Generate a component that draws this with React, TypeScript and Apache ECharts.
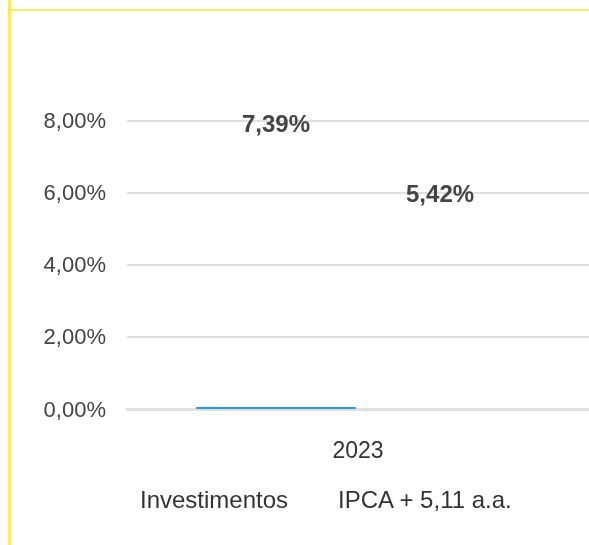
import React, { useEffect, useRef } from "react";
import * as echarts from "echarts";

const categories = ["2023"];
const seriesNames = ["Investimentos", "IPCA + 5,11 a.a."];
const investimentos = [7.39];
const ipca = [5.42];
const yTicks = { min: 0, max: 8, interval: 2 };

const FONT = "'Liberation Sans', Arial, Helvetica, sans-serif";
const fmtPct = (v: number) => v.toFixed(2).replace(".", ",") + "%";

export default function App() {
  const ref = useRef<HTMLDivElement>(null);
  useEffect(() => {
    if (!ref.current) return;
    const chart = echarts.init(ref.current, null, { renderer: "svg" });
    const blueStrip = {
      type: "linear",
      x: 0,
      y: 0,
      x2: 0,
      y2: 1,
      colorStops: [
        { offset: 0, color: "rgba(33,150,243,0)" },
        { offset: 0.992, color: "rgba(33,150,243,0)" },
        { offset: 0.992, color: "#2196f3" },
        { offset: 1, color: "#2196f3" },
      ],
    };
    chart.setOption({
      animation: false,
      textStyle: { fontFamily: FONT },
      grid: { left: 119, right: 0, top: 112.5, bottom: 136, containLabel: false },
      legend: {
        data: seriesNames,
        left: 97,
        top: 474,
        itemWidth: 25,
        itemHeight: 14,
        itemGap: 20,
        itemStyle: { opacity: 0 },
        textStyle: { fontSize: 24, color: "#333", fontFamily: FONT },
      },
      xAxis: {
        type: "category",
        data: categories,
        axisLine: { lineStyle: { color: "#e0e0e0", width: 3 } },
        axisTick: { alignWithLabel: true, length: 10, lineStyle: { color: "#e0e0e0", width: 2 } },
        axisLabel: { fontSize: 23, color: "#333", margin: 29, fontFamily: FONT },
      },
      yAxis: {
        type: "value",
        min: yTicks.min,
        max: yTicks.max,
        interval: yTicks.interval,
        axisLine: { show: false },
        axisTick: { show: false },
        splitLine: { lineStyle: { color: "#e0e0e0", width: 2 } },
        axisLabel: {
          fontSize: 22,
          color: "#444",
          margin: 21,
          fontFamily: FONT,
          formatter: (v: number) => fmtPct(v),
        },
      },
      series: [
        {
          name: seriesNames[0],
          type: "bar",
          data: investimentos,
          barCategoryGap: "30%",
          barGap: "3%",
          itemStyle: { color: blueStrip },
          label: {
            show: true,
            position: "top",
            distance: 7,
            fontSize: 24,
            fontWeight: "bold",
            color: "#444",
            fontFamily: FONT,
            formatter: (p: any) => fmtPct(p.value),
          },
        },
        {
          name: seriesNames[1],
          type: "bar",
          data: ipca,
          barCategoryGap: "30%",
          barGap: "3%",
          itemStyle: { color: "rgba(255,255,255,0)" },
          label: {
            show: true,
            position: "top",
            distance: 8,
            fontSize: 24,
            fontWeight: "bold",
            color: "#444",
            fontFamily: FONT,
            formatter: (p: any) => fmtPct(p.value),
          },
        },
      ],
    });
    return () => chart.dispose();
  }, []);

  return (
    <>
      <div
        ref={ref}
        style={{ position: "fixed", left: 8, top: 8, width: 581, height: 537 }}
      />
      <div
        style={{ position: "fixed", left: 8, top: 0, width: 3, height: 545, background: "#ffeb57", zIndex: 10 }}
      />
      <div
        style={{ position: "fixed", left: 11, top: 9, right: 0, height: 2, background: "#ffeb57", zIndex: 10 }}
      />
    </>
  );
}
